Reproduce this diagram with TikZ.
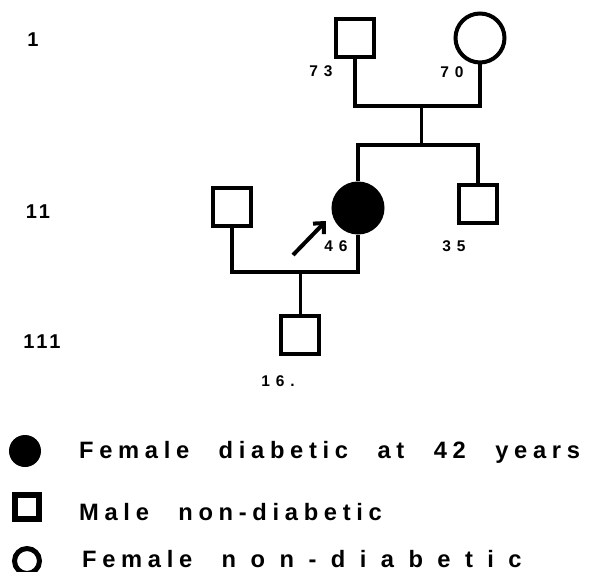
\documentclass[tikz,border=0pt]{standalone}
\usepackage{fontspec}
\setmainfont{Liberation Sans}
\newfontfamily\legendfont[LetterSpace=24,WordSpace=2.4]{Liberation Sans}
\newfontfamily\wideleg[LetterSpace=61]{Liberation Sans}
\newfontfamily\agefont[LetterSpace=38]{Liberation Sans}
\newfontfamily\genfont[LetterSpace=15]{Liberation Sans}
\usetikzlibrary{arrows.meta}

\begin{document}
\begin{tikzpicture}[x=1pt,y=-1pt,
  malebox/.style={draw,line width=4.5pt,minimum size=38pt,inner sep=0pt},
  femcirc/.style={draw,circle,line width=4pt,minimum size=49pt,inner sep=0pt},
  affcirc/.style={femcirc,fill=black},
  link/.style={line width=4.5pt},
  agelabel/.style={font=\agefont\bfseries\fontsize{15.5}{16}\selectfont,inner sep=0pt},
  genlabel/.style={font=\genfont\bfseries\fontsize{20}{20}\selectfont,inner sep=0pt},
  legtext/.style={font=\legendfont\bfseries\fontsize{23.7}{24}\selectfont,inner sep=0pt,anchor=base west}]
\useasboundingbox (0,0) rectangle (594,572);

% pedigree
\node[malebox] (gfather) at (355,38) {};
\node[femcirc] (gmother) at (480,38) {};
\node[malebox] (husband) at (232,207) {};
\node[affcirc] (proband) at (358,208) {};
\node[malebox] (brother) at (478,204) {};
\node[malebox] (son) at (300,335) {};

\coordinate (gmar) at (421,106);
\coordinate (sib) at (421,145);
\coordinate (pmar) at (300,272);
\draw[link] (gfather.south) |- (gmar) -| (gmother.south);
\draw[link,line width=3pt] (gmar) -- (sib);
\draw[link] (proband.north) |- (sib) -| (brother.north);
\draw[link] (husband.south) |- (pmar) -| (proband.south);
\draw[link,line width=3pt] (pmar) -- (son.north);

\coordinate (ptail) at (293,255);
\coordinate (phead) at (326,221);
\draw[line width=4pt,-{Straight Barb[length=8pt,width=15pt]}] (ptail) -- (phead);

\node[agelabel] (age73) at (321,71) {73};
\node[agelabel] (age70) at (452,72) {70};
\node[agelabel] (age46) at (336,246) {46};
\node[agelabel] (age35) at (454,246) {35};
\node[agelabel] (age16) at (278,381) {16.};

\node[genlabel] (gen1) at (33,40) {1};
\node[genlabel] (gen2) at (38,212) {11};
\node[genlabel] (gen3) at (42,342) {111};

% legend
\node[circle,fill=black,minimum size=32pt,inner sep=0pt] (legaff) at (25,451) {};
\node[draw,line width=6pt,minimum size=24pt,inner sep=0pt] (legmale) at (27,507) {};
\node[draw,circle,line width=5pt,minimum size=25pt,inner sep=0pt] (legfem) at (27,561) {};
\node[legtext] (txtaff) at (79,458) {Female diabetic at 42 years};
\node[legtext] (txtmale) at (79,520) {Male non-diabetic};
\node[legtext] (txtfem) at (82,567) {Female {\wideleg non-diabetic}};
\end{tikzpicture}
\end{document}
